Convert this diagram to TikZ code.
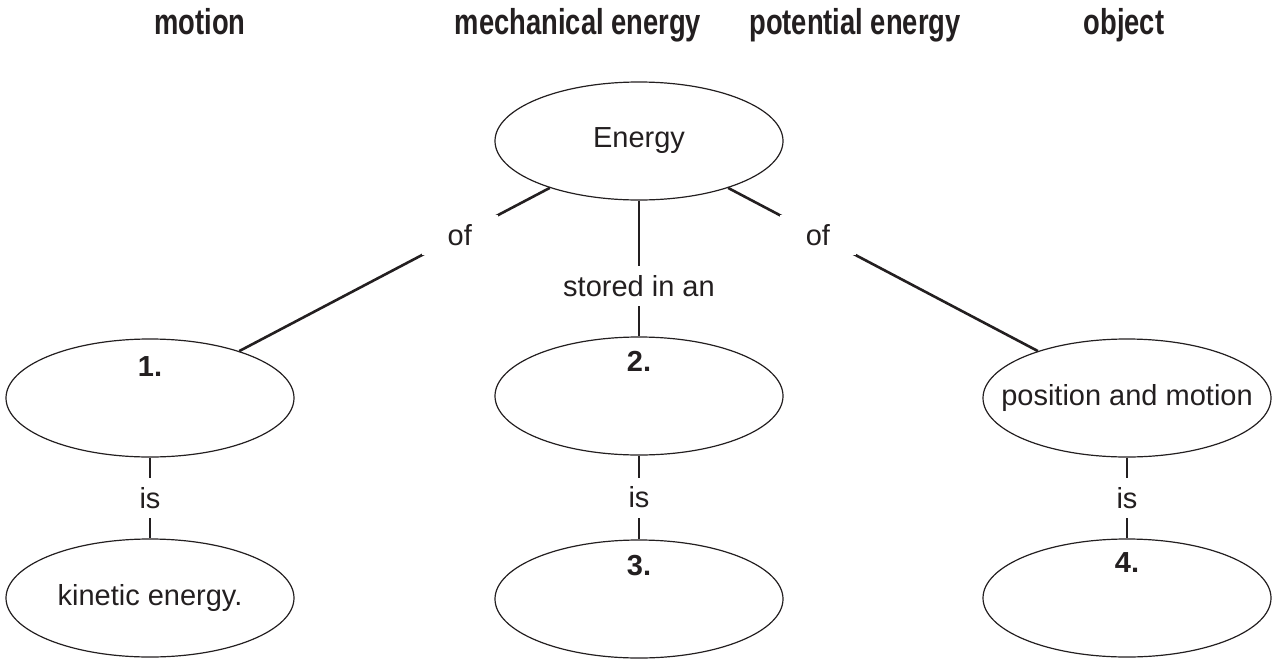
\documentclass[tikz,border=0pt]{standalone}
\usepackage{fontspec}
\setmainfont{Liberation Sans}
\newfontfamily\headfont[FakeStretch=0.76]{Liberation Sans}
\usepackage{tikz}
\usetikzlibrary{shapes.geometric}

\definecolor{ink}{HTML}{231F20}

\tikzset{
    bubble/.style={draw=ink, text=ink, line width=1.2pt, ellipse, minimum width=288pt, minimum height=118pt, inner sep=0pt, font=\fontsize{29}{34}\selectfont},
    txt/.style={text=ink, inner sep=0pt, font=\fontsize{29}{34}\selectfont},
    lbl/.style={fill=white, text=ink, minimum height=40pt, minimum width=76pt, inner sep=2pt, font=\fontsize{29}{34}\selectfont},
    num/.style={text=ink, font=\fontsize{29}{34}\selectfont\bfseries},
    head/.style={anchor=base, text=ink, font=\headfont\fontsize{36}{40}\selectfont\bfseries},
    link/.style={draw=ink, line width=2.6pt},
}

\begin{document}
\begin{tikzpicture}[x=1pt, y=-1pt]
    \useasboundingbox (0,0) rectangle (1275,659);
    \node[head] (hmotion) at (200,34) {motion};
    \node[head] (hmech) at (578,34) {mechanical energy};
    \node[head] (hpot) at (855,34) {potential energy};
    \node[head] (hobject) at (1124,34) {object};

    \node[bubble] (energy) at (639,141) {Energy};
    \node[bubble] (one) at (150,398) {};
    \node[bubble] (two) at (639,396) {};
    \node[bubble] (posmo) at (1127,398) {};
    \node[bubble] (kinetic) at (150,598) {kinetic energy.};
    \node[bubble] (three) at (639,599) {};
    \node[bubble] (four) at (1127,598) {};

    \node[txt] (posmotext) at (posmo.center) {position and motion};
    \node[num] (n1) at ([yshift=31pt]one.center) {1.};
    \node[num] (n2) at ([yshift=35pt]two.center) {2.};
    \node[num] (n3) at ([yshift=33pt]three.center) {3.};
    \node[num] (n4) at ([yshift=35pt]four.center) {4.};

    \draw[link] (energy) -- node[lbl, pos=0.29] {of} (one);
    \draw[link] (energy) -- node[lbl, pos=0.63] {stored in an} (two);
    \draw[link] (energy) -- node[lbl, pos=0.29] {of} (posmo);
    \draw[link] (one) -- node[lbl, pos=0.5] {is} (kinetic);
    \draw[link] (two) -- node[lbl, pos=0.5] {is} (three);
    \draw[link] (posmo) -- node[lbl, pos=0.5] {is} (four);
\end{tikzpicture}
\end{document}
